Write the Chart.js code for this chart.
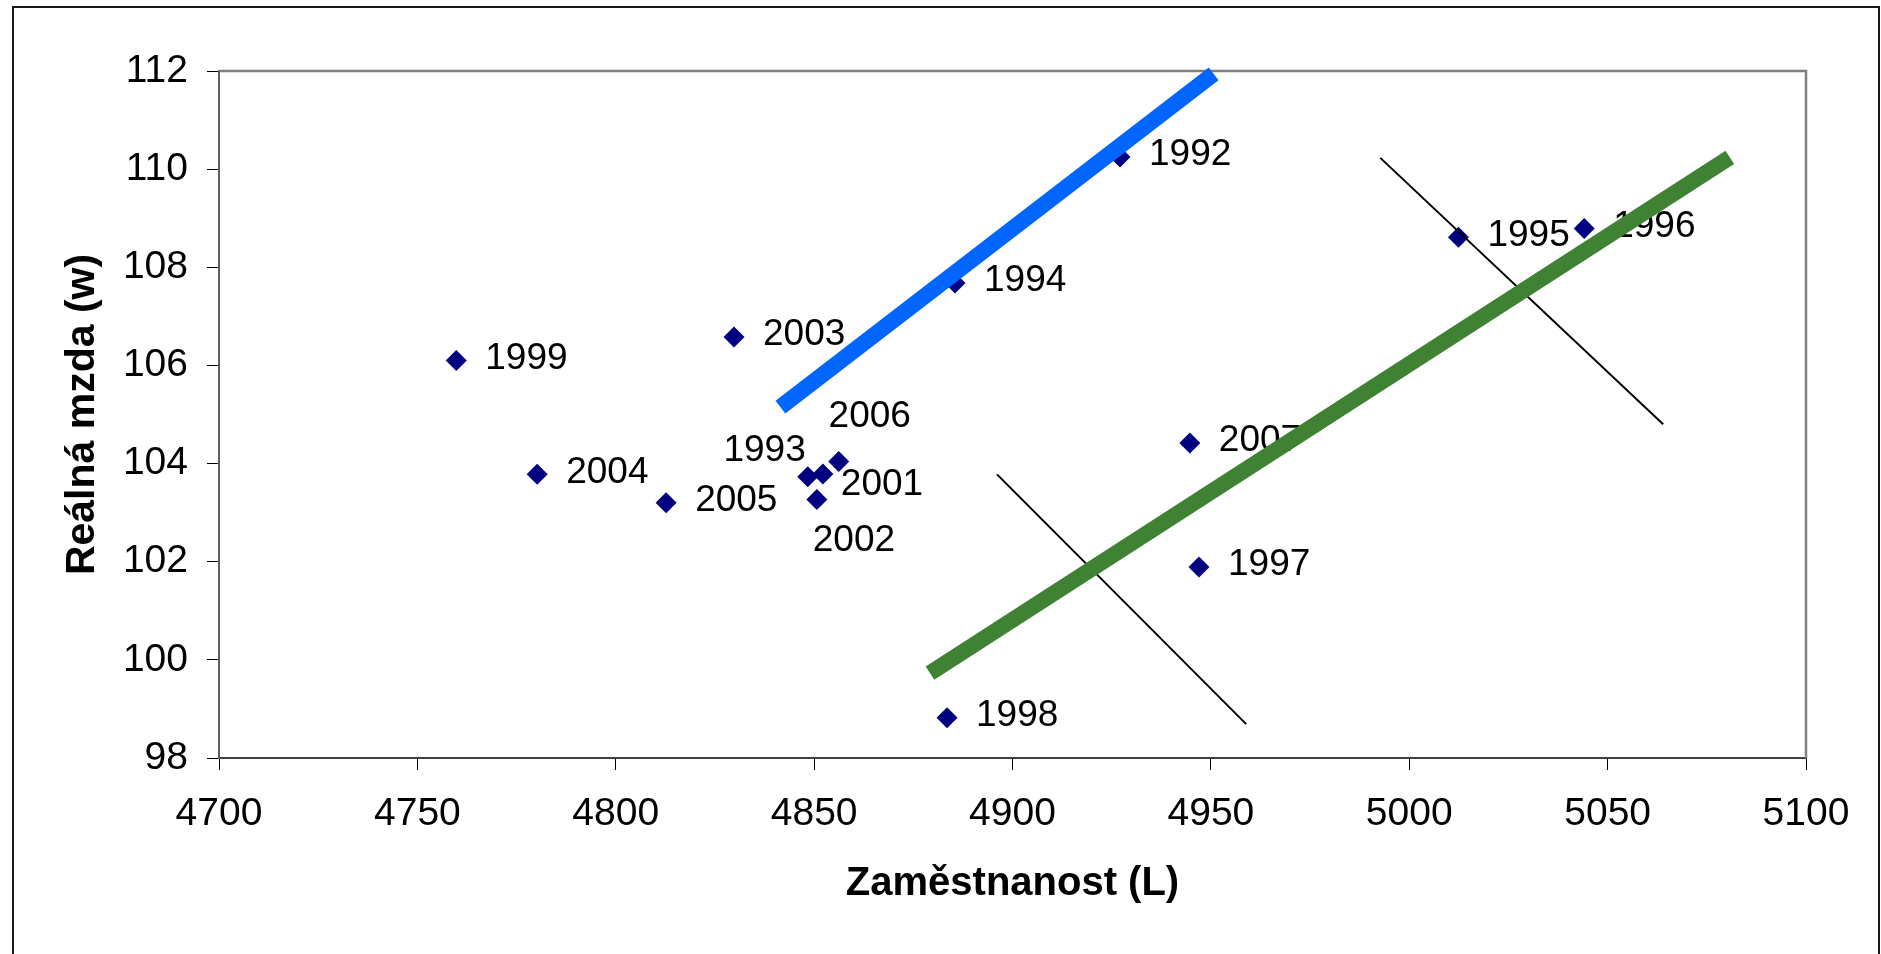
<!DOCTYPE html>
<html>
<head>
<meta charset="utf-8">
<script src="https://cdn.jsdelivr.net/npm/chart.js@4/dist/chart.umd.min.js"></script>
<style>
  html, body { margin: 0; padding: 0; background: #fff; }
  #wrap { width: 1881px; height: 954px; position: relative; }
</style>
</head>
<body>
<div id="wrap"><canvas id="c"></canvas></div>
<script>
// ---- data ----
const years      = ['1992','1993','1994','1995','1996','1997','1998','1999','2001','2002','2003','2004','2005','2006','2007'];
const employment = [4927.1, 4848.4, 4885.5, 5012.4, 5044.1, 4947.0, 4883.5, 4759.8, 4852.2, 4850.7, 4829.8, 4780.2, 4812.7, 4856.2, 4944.7];
const realWage   = [110.25, 103.73, 107.68, 108.61, 108.79, 101.89, 98.82, 106.10, 103.79, 103.27, 106.58, 103.78, 103.20, 104.04, 104.42];

// straight lines drawn over the scatter (end points in data units)
const blueLineL  = [4841.5, 4950.7];
const blueLineW  = [105.15, 111.94];
const greenLineL = [4879.2, 5080.8];
const greenLineW = [99.73, 110.24];
const black1L    = [4896.1, 4958.9];
const black1W    = [103.78, 98.69];
const black2L    = [4992.7, 5064.0];
const black2W    = [110.23, 104.80];

const xTickValues = [4700, 4750, 4800, 4850, 4900, 4950, 5000, 5050, 5100];
const yTickValues = [98, 100, 102, 104, 106, 108, 110, 112];

const xTitle = 'Zaměstnanost (L)';
const yTitle = 'Reálná mzda (w)';

// ---- build ----
const pts = (xs, ys) => xs.map((x, i) => ({ x: x, y: ys[i] }));
const FONT = '"Liberation Sans", Arial, Helvetica, sans-serif';
Chart.defaults.font.family = FONT;

// label placement (style only): offset from point centre
const labelPlacement = {
  default: { dx: 29, dy: -2, align: 'left' },
  '2006': { dx: 31, dy: -45, align: 'center' },
  '1993': { dx: -2, dy: -26, align: 'right' },
  '2001': { dx: 18, dy: 11, align: 'left' },
  '2002': { dx: 37, dy: 41, align: 'center' }
};

const pointLabels = {
  id: 'pointLabels',
  afterDatasetDraw(chart, args) {
    if (args.index !== 0) return;
    const ctx = chart.ctx;
    ctx.save();
    ctx.font = '37px ' + FONT;
    ctx.fillStyle = '#000';
    ctx.textBaseline = 'middle';
    args.meta.data.forEach((el, i) => {
      const p = labelPlacement[years[i]] || labelPlacement.default;
      ctx.textAlign = p.align;
      ctx.fillText(years[i], el.x + p.dx, el.y + p.dy);
    });
    ctx.restore();
  }
};

const frames = {
  id: 'frames',
  beforeDatasetsDraw(chart) {
    const ctx = chart.ctx, a = chart.chartArea;
    ctx.save();
    ctx.strokeStyle = '#808080';
    ctx.lineWidth = 2.5;
    ctx.beginPath();
    ctx.moveTo(a.left, a.top);
    ctx.lineTo(a.right, a.top);
    ctx.lineTo(a.right, a.bottom);
    ctx.stroke();
    ctx.restore();
  },
  afterDraw(chart) {
    const ctx = chart.ctx;
    ctx.save();
    ctx.strokeStyle = '#1a1a1a';
    ctx.lineWidth = 2;
    ctx.beginPath();
    ctx.moveTo(13, 960);
    ctx.lineTo(13, 7);
    ctx.lineTo(1879, 7);
    ctx.lineTo(1879, 960);
    ctx.stroke();
    ctx.restore();
  }
};

const lineDs = (xs, ys, color, width) => ({
  type: 'line',
  data: pts(xs, ys),
  borderColor: color,
  backgroundColor: color,
  borderWidth: width,
  borderCapStyle: 'butt',
  pointRadius: 0,
  showLine: true,
  fill: false,
  order: 0,
  clip: false
});

new Chart(document.getElementById('c'), {
  type: 'scatter',
  data: {
    datasets: [
      {
        label: 'roky',
        data: pts(employment, realWage),
        pointStyle: 'rectRot',
        pointRadius: 10.5,
        backgroundColor: '#000080',
        borderColor: '#000080',
        borderWidth: 0,
        order: 1
      },
      lineDs(blueLineL, blueLineW, '#0066ff', 16),
      lineDs(greenLineL, greenLineW, '#3f8234', 16),
      lineDs(black1L, black1W, '#000000', 2),
      lineDs(black2L, black2W, '#000000', 2)
    ]
  },
  options: {
    responsive: true,
    maintainAspectRatio: false,
    animation: false,
    layout: { padding: { left: 0, top: 71, right: 75, bottom: 0 } },
    plugins: { legend: { display: false }, tooltip: { enabled: false } },
    scales: {
      x: {
        type: 'linear',
        min: 4700, max: 5100,
        afterBuildTicks: (s) => { s.ticks = xTickValues.map(v => ({ value: v })); },
        afterFit: (s) => { s.height = 196; },
        ticks: { color: '#000', font: { size: 39 }, padding: 21, maxRotation: 0, autoSkip: false, callback: (v) => String(v) },
        grid: { display: true, drawOnChartArea: false, drawTicks: true, tickLength: 12, tickColor: '#000', tickWidth: 1 },
        border: { display: true, color: '#404040', width: 2 },
        title: { display: true, text: xTitle, color: '#000', font: { size: 40, weight: 'bold' }, padding: { top: 0, bottom: 46 } }
      },
      y: {
        type: 'linear',
        min: 98, max: 112,
        afterBuildTicks: (s) => { s.ticks = yTickValues.map(v => ({ value: v })); },
        afterFit: (s) => { s.width = 219; },
        ticks: { color: '#000', font: { size: 39 }, padding: 19, callback: (v) => String(v) },
        grid: { display: true, drawOnChartArea: false, drawTicks: true, tickLength: 12, tickColor: '#000', tickWidth: 1 },
        border: { display: true, color: '#606060', width: 2 },
        title: { display: true, text: yTitle, color: '#000', font: { size: 41, weight: 'bold' }, padding: { top: 58, bottom: 0 } }
      }
    }
  },
  plugins: [frames, pointLabels]
});
</script>
</body>
</html>
